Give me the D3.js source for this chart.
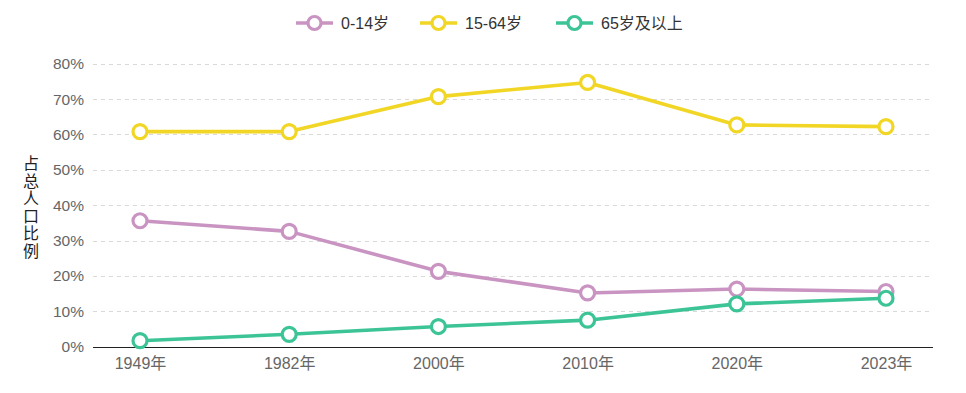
<!DOCTYPE html>
<html>
<head>
<meta charset="utf-8">
<script src="https://cdn.jsdelivr.net/npm/d3@7"></script>
<style>
  body { margin: 0; background: #fff; }
  text { font-family: "Liberation Sans", Arial, "Noto Sans CJK SC", sans-serif; }
</style>
</head>
<body>
<script>
/* data */
const years = ['1949年', '1982年', '2000年', '2010年', '2020年', '2023年'];
const seriesNames = ['0-14岁', '15-64岁', '65岁及以上'];
const age0_14 = [35.6, 32.6, 21.3, 15.2, 16.3, 15.6];
const age15_64 = [60.8, 60.8, 70.7, 74.7, 62.7, 62.2];
const age65 = [1.7, 3.5, 5.7, 7.5, 12.1, 13.7];
const yTicks = [0, 10, 20, 30, 40, 50, 60, 70, 80];

const colors = ['#c994c2', '#f2d625', '#3cc497'];
const series = [age0_14, age15_64, age65];

/* canvas */
const width = 966, height = 393;
const padding = { top: 64, bottom: 46, left: 93, right: 33 };

const svg = d3.select('body').append('svg')
  .attr('width', width).attr('height', height);

/* scales */
const xScale = d3.scalePoint()
  .domain(years).range([padding.left, width - padding.right]).padding(0.315);
const yScale = d3.scaleLinear()
  .domain([0, 80]).range([height - padding.bottom - 0.3, padding.top - 0.3]);

/* grid lines */
svg.append('g').selectAll('line').data(yTicks.slice(1)).enter().append('line')
  .attr('x1', padding.left).attr('x2', width - padding.right)
  .attr('y1', d => Math.round(yScale(d)) + 0.5).attr('y2', d => Math.round(yScale(d)) + 0.5)
  .attr('stroke', '#d9d9d9').attr('stroke-dasharray', '4,4');

/* y axis labels */
const yAxis = svg.append('g').attr('transform', 'translate(' + padding.left + ',0)')
  .call(d3.axisLeft(yScale).tickValues(yTicks).tickFormat(d => d + '%').tickSize(0).tickPadding(9));
yAxis.select('.domain').remove();
yAxis.selectAll('text').attr('font-size', 15.5).attr('fill', '#666')
  .style('font-family', '"Liberation Sans", Arial, sans-serif');

/* x axis */
const xAxis = svg.append('g').attr('transform', 'translate(0,' + (height - padding.bottom) + ')')
  .call(d3.axisBottom(xScale).tickSize(0).tickPadding(11));
xAxis.select('.domain').attr('d', 'M' + padding.left + ',0.5H' + (width - padding.right))
  .attr('stroke', '#222').attr('stroke-width', 1.2);
xAxis.selectAll('text').attr('font-size', 16).attr('fill', '#666');

/* y title, vertical upright characters */
svg.append('text')
  .attr('x', 31).attr('y', 155)
  .style('writing-mode', 'vertical-rl')
  .style('text-orientation', 'upright')
  .style('letter-spacing', '1.5px')
  .style('font-family', '"Noto Sans CJK SC", sans-serif')
  .attr('font-size', 16).attr('fill', '#222')
  .text('占总人口比例');

/* lines and points */
const line = d3.line().x((d, i) => xScale(years[i])).y(d => yScale(d));

series.forEach((s, k) => {
  svg.append('path').datum(s)
    .attr('d', line).attr('fill', 'none')
    .attr('stroke', colors[k]).attr('stroke-width', 3.6)
    .attr('stroke-linejoin', 'round');
});
series.forEach((s, k) => {
  svg.append('g').selectAll('circle').data(s).enter().append('circle')
    .attr('cx', (d, i) => xScale(years[i])).attr('cy', d => yScale(d))
    .attr('r', 7).attr('fill', '#fff')
    .attr('stroke', colors[k]).attr('stroke-width', 3.2);
});

/* legend */
const legendX = [296, 420, 556];
const legend = svg.append('g').selectAll('g').data(seriesNames).enter().append('g')
  .attr('transform', (d, i) => 'translate(' + legendX[i] + ',23)');
legend.append('line').attr('x1', 0).attr('x2', 37).attr('y1', 0).attr('y2', 0)
  .attr('stroke', (d, i) => colors[i]).attr('stroke-width', 3.6);
legend.append('circle').attr('cx', 18.5).attr('cy', 0).attr('r', 6.5)
  .attr('fill', '#fff').attr('stroke', (d, i) => colors[i]).attr('stroke-width', 3.2);
legend.append('text').attr('x', 45).attr('y', 0).attr('dy', '0.35em')
  .attr('font-size', 16).attr('fill', '#333').text(d => d);
</script>
</body>
</html>
